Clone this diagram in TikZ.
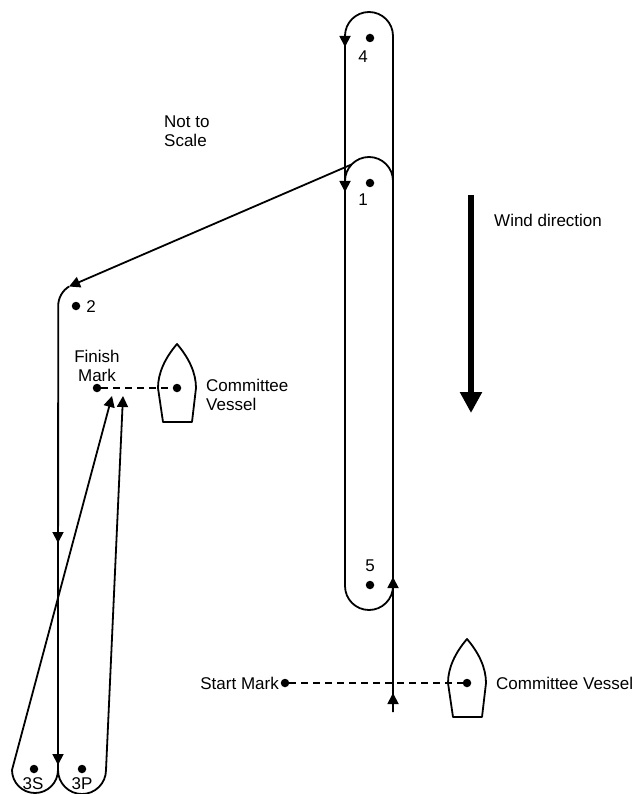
\documentclass[tikz,border=0pt]{standalone}
\usepackage{fontspec}
\setmainfont{Liberation Sans}
\usetikzlibrary{arrows.meta}
\tikzset{
  course/.style={line width=1.8pt},
  markdot/.style={circle,fill=black,inner sep=0pt,minimum size=8.5pt},
  lbl/.style={inner sep=0pt,font=\fontsize{17}{19.5}\selectfont},
  tri/.style={line width=1.8pt,-{Triangle[length=11pt,width=11pt]}},
  layline/.style={line width=1.8pt,dash pattern=on 7pt off 5pt},
  windarrow/.style={line width=5.5pt,-{Triangle[length=21pt,width=21pt]}},
  vessel/.pic={
    \draw[line width=1.8pt,line join=round] (0,-44) .. controls (-12,-30) and (-19,-15) .. (-19,0)
      -- (-14,34) -- (15,34) -- (19,0) .. controls (19,-15) and (12,-30) .. cycle;
  }
}
\begin{document}
\begin{tikzpicture}[x=1pt,y=-1pt]
\useasboundingbox (0,0) rectangle (635,794);

% marks
\node[markdot] (m4) at (370,38) {};
\node[markdot] (m1) at (370,183) {};
\node[markdot] (m5) at (370,585) {};
\node[markdot] (m2) at (76,306) {};
\node[markdot] (m3s) at (34,769) {};
\node[markdot] (m3p) at (82,769) {};
\node[markdot] (fin) at (97,388) {};
\node[markdot] (cvf) at (177,388) {};
\node[markdot] (sm) at (285,683) {};
\node[markdot] (cvs) at (467,683) {};

% labels
\node[lbl] (l4) at (363,57) {4};
\node[lbl] (l1) at (363,200) {1};
\node[lbl] (l5) at (370,566) {5};
\node[lbl] (l2) at (91,307) {2};
\node[lbl] (l3s) at (33,784) {3S};
\node[lbl] (l3p) at (82,784) {3P};
\node[lbl,align=left,anchor=west] (nts) at (164,131) {Not to\\Scale};
\node[lbl,align=center] (finl) at (97,366) {Finish\\Mark};
\node[lbl,align=left,anchor=west] (cvfl) at (206,395) {Committee\\Vessel};
\node[lbl,anchor=east] (sml) at (279,683) {Start Mark};
\node[lbl,anchor=west] (cvsl) at (496,683) {Committee Vessel};
\node[lbl,anchor=west] (wdl) at (494,220) {Wind direction};

% committee vessels
\pic at (cvf) {vessel};
\pic at (cvs) {vessel};

% finish and start lines
\draw[layline] (fin) -- (cvf);
\draw[layline] (sm) -- (cvs);

% course points
\coordinate (start) at (393,712);
\coordinate (r4) at (393,36);
\coordinate (l5top) at (345,586);
\coordinate (r1) at (393,181);
\coordinate (leave1) at (351.5,164.5);
\coordinate (tip2) at (69,286.5);
\coordinate (down3) at (58,770);
\coordinate (up3s) at (12,770);
\coordinate (up3p) at (106,770);
\coordinate (tipS) at (112,396);
\coordinate (tipP) at (123,396);

% long loop around 4 and 5
\draw[course] (start) -- (r4) arc[start angle=0,end angle=-180,radius=24]
  -- (l5top) arc[start angle=180,end angle=0,radius=24];
% rounding 1
\draw[course] (r1) arc[start angle=0,end angle=-180,radius=24];
% leg 1 to 2
\draw[tri] (leave1) -- (tip2);
\draw[course] (tip2) arc[start angle=-122,end angle=-180,radius=23] -- (down3);
% gate 3S / 3P
\draw[course] (down3) arc[start angle=0,end angle=180,radius=23];
\draw[course] (down3) arc[start angle=180,end angle=0,radius=24];
% finishing legs
\draw[tri] (up3s) -- (tipS);
\draw[tri] (up3p) -- (tipP);

% direction arrows on legs
\draw[tri] (345,34) -- (345,47);
\draw[tri] (345,179) -- (345,192);
\draw[tri] (393,590) -- (393,577);
\draw[tri] (393,706) -- (393,693);
\draw[tri] (58,530) -- (58,543);
\draw[tri] (58,752) -- (58,765);

% wind
\coordinate (wtop) at (471,195);
\coordinate (wbot) at (471,413);
\draw[windarrow] (wtop) -- (wbot);
\end{tikzpicture}
\end{document}
